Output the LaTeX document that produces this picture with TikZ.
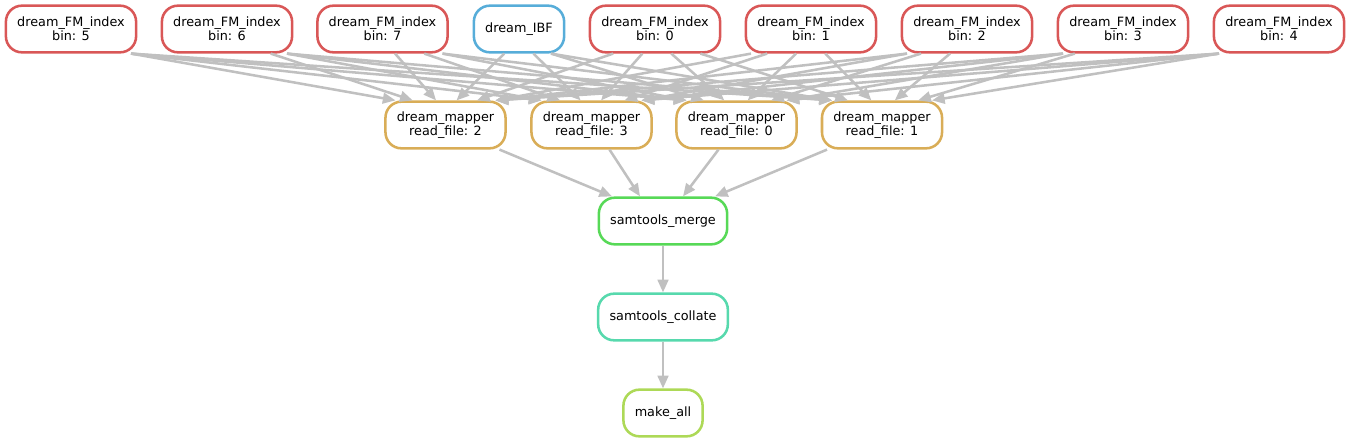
\documentclass[tikz,border=0pt]{standalone}
\usepackage{fontspec}
\setmainfont{DejaVu Sans}
\usetikzlibrary{arrows.meta}

\definecolor{fmred}{RGB}{217,87,87}
\definecolor{ibfblue}{RGB}{87,173,217}
\definecolor{mapperorange}{RGB}{217,173,87}
\definecolor{mergegreen}{RGB}{87,217,87}
\definecolor{collateteal}{RGB}{87,217,173}
\definecolor{makelime}{RGB}{173,217,87}
\definecolor{edgegray}{RGB}{192,192,192}

\tikzset{
    rulenode/.style={draw=#1, line width=1.9pt, rounded corners=12pt, fill=white,
        align=center, minimum height=35pt, inner xsep=8.5pt,
        font=\fontsize{9.6}{10.8}\selectfont},
    dagedge/.style={draw=edgegray, line width=1.9pt,
        -{Triangle[length=9.5pt,width=8pt]}}
}

\begin{document}
\begin{tikzpicture}[x=0.75pt, y=-0.75pt]
    \useasboundingbox (0,0) rectangle (1351,443);

    % Index builders (top row)
    \foreach \b/\bx in {5/71,6/227,7/382.5,0/655,1/811,2/967,3/1123,4/1279} {
        \node[rulenode=fmred] (fm\b) at (\bx,29) {dream\_FM\_index\\bin: \b};
    }
    \node[rulenode=ibfblue] (ibf) at (519,29) {dream\_IBF};

    % Mappers
    \foreach \r/\rx in {2/445.5,3/591.5,0/736.5,1/882} {
        \node[rulenode=mapperorange] (map\r) at (\rx,125) {dream\_mapper\\read\_file: \r};
    }

    % Merge, collate, final target
    \node[rulenode=mergegreen] (merge) at (663,221) {samtools\_merge};
    \node[rulenode=collateteal] (collate) at (663,317) {samtools\_collate};
    \node[rulenode=makelime] (makeall) at (663,413) {make\_all};

    % Every index feeds every mapper
    \foreach \b/\bx in {5/71,6/227,7/382.5,0/655,1/811,2/967,3/1123,4/1279} {
        \foreach \r/\rx in {2/445.5,3/591.5,0/736.5,1/882} {
            \pgfmathsetmacro\outx{max(-60,min(60,0.2*(\rx-\bx)))}
            \pgfmathsetmacro\inx{max(-50,min(50,-0.15*(\rx-\bx)))}
            \draw[dagedge] ([xshift=\outx*0.75pt]fm\b.south) -- ([xshift=\inx*0.75pt]map\r.north);
        }
    }
    \foreach \r/\rx in {2/445.5,3/591.5,0/736.5,1/882} {
        \pgfmathsetmacro\outx{max(-32,min(32,0.2*(\rx-519)))}
        \pgfmathsetmacro\inx{max(-50,min(50,-0.15*(\rx-519)))}
        \draw[dagedge] ([xshift=\outx*0.75pt]ibf.south) -- ([xshift=\inx*0.75pt]map\r.north);
    }

    % Mappers into merge
    \foreach \r/\outx/\inx in {2/54/-51,3/18/-23,0/-18/20,1/-55/52} {
        \draw[dagedge] ([xshift=\outx*0.75pt]map\r.south) -- ([xshift=\inx*0.75pt]merge.north);
    }
    \draw[dagedge] (merge) -- (collate);
    \draw[dagedge] (collate) -- (makeall);
\end{tikzpicture}
\end{document}
